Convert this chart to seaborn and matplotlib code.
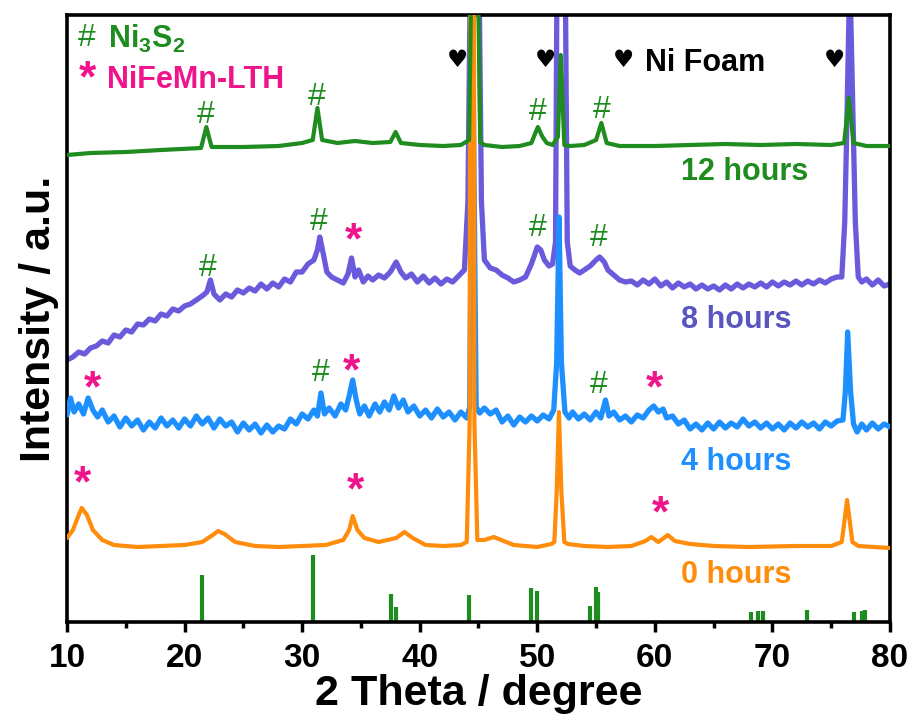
import matplotlib
matplotlib.use("Agg")
import matplotlib.pyplot as plt
import numpy as np
import pandas as pd
import seaborn as sns
from matplotlib.ticker import MultipleLocator

# ---------------- data (intensity values include the vertical offset of each trace) -------------
tt_0h = [10.0, 10.5, 11.0, 11.25, 11.7, 12.2, 13.0, 14.0, 16.0, 18.0, 20.0, 21.5, 22.4, 22.85, 23.4,
         24.3, 26.0, 28.0, 30.0, 32.0, 33.5, 34.0, 34.3, 34.7, 35.3, 36.5, 38.0, 38.7, 39.4, 40.5,
         42.0, 43.5, 44.0, 44.25, 44.3, 44.6, 44.65, 44.9, 45.5, 46.3, 48.0, 50.0, 51.2, 51.45,
         51.65, 51.84, 52.05, 52.3, 52.6, 54.0, 56.0, 58.0, 59.2, 59.7, 60.3, 61.1, 61.7, 63.0,
         65.0, 68.0, 72.0, 75.0, 75.9, 76.35, 76.8, 77.3, 80.0]
int_0h = [84, 92, 107, 114, 107, 92, 82, 77, 75, 76, 77, 80, 87, 91, 88,
          80, 76, 75, 76, 77, 82, 92, 106, 92, 84, 80, 84, 90, 84, 77,
          76, 77, 80, 200, 900, 900, 200, 82, 82, 85, 77, 75, 78, 80,
          130, 210, 130, 80, 78, 76, 75, 76, 81, 85, 80, 87, 81, 78,
          76, 75, 76, 76, 80, 122, 80, 76, 74]

tt_4h = [10.0, 10.3, 10.6, 11.0, 11.4, 11.8, 12.2, 12.6, 13.0, 13.5, 14.0, 14.5, 15.0, 15.5, 16.0,
         16.5, 17.0, 17.5, 18.0, 18.5, 19.0, 19.5, 20.0, 20.5, 21.0, 21.5, 22.0, 22.5, 23.0, 23.5,
         24.0, 24.5, 25.0, 25.5, 26.0, 26.5, 27.0, 27.5, 28.0, 28.5, 29.0, 29.5, 30.0, 30.5, 31.0,
         31.3, 31.6, 31.9, 32.3, 32.8, 33.3, 33.7, 34.0, 34.3, 34.6, 34.9, 35.3, 35.7, 36.2, 36.6,
         37.0, 37.4, 37.8, 38.2, 38.6, 39.0, 39.5, 40.0, 40.5, 41.0, 41.5, 42.0, 42.5, 43.0, 43.5,
         44.0, 44.25, 44.5, 44.8, 45.1, 45.5, 46.0, 46.5, 47.0, 47.5, 48.0, 48.5, 49.0, 49.5, 50.0,
         50.5, 51.0, 51.4, 51.65, 51.85, 52.05, 52.35, 52.7, 53.0, 53.5, 54.0, 54.5, 55.0, 55.4,
         55.8, 56.1, 56.5, 57.0, 57.5, 58.0, 58.5, 59.0, 59.5, 59.9, 60.3, 60.7, 61.0, 61.5, 62.0,
         62.5, 63.0, 63.5, 64.0, 64.5, 65.0, 65.5, 66.0, 66.5, 67.0, 67.5, 68.0, 68.5, 69.0, 69.5,
         70.0, 70.5, 71.0, 71.5, 72.0, 72.5, 73.0, 73.5, 74.0, 74.5, 75.0, 75.5, 76.0, 76.2, 76.4,
         76.65, 76.9, 77.2, 77.6, 78.0, 78.5, 79.0, 79.5, 80.0]
int_4h = [207, 224, 210, 218, 208, 224, 212, 205, 212, 200, 206, 195, 204, 196, 202,
          192, 200, 194, 204, 196, 202, 194, 203, 196, 206, 198, 204, 194, 203, 196,
          200, 190, 199, 192, 198, 189, 197, 190, 196, 193, 203, 198, 208, 203, 212,
          206, 229, 208, 214, 206, 218, 212, 226, 242, 222, 208, 216, 206, 218, 210,
          220, 212, 226, 214, 222, 210, 216, 206, 212, 204, 213, 205, 210, 202, 210,
          204, 215, 600, 215, 209, 214, 208, 212, 200, 206, 197, 205, 200, 206, 201,
          207, 203, 212, 260, 405, 260, 210, 204, 210, 203, 208, 202, 210, 204,
          222, 206, 210, 202, 206, 200, 207, 204, 212, 216, 210, 213, 204, 206, 198,
          202, 193, 198, 192, 199, 193, 200, 194, 199, 195, 203, 196, 200, 194, 199,
          193, 198, 192, 199, 194, 200, 195, 199, 193, 200, 196, 201, 202, 230, 290,
          230, 198, 190, 198, 192, 199, 193, 198, 195]

tt_8h = [10.0, 10.5, 11.0, 11.5, 12.0, 12.5, 13.0, 13.5, 14.0, 14.5, 15.0, 15.5, 16.0, 16.5, 17.0,
         17.5, 18.0, 18.5, 19.0, 19.5, 20.0, 20.5, 21.0, 21.5, 21.9, 22.2, 22.5, 23.0, 23.5, 24.0,
         24.5, 25.0, 25.5, 26.0, 26.5, 27.0, 27.5, 28.0, 28.5, 29.0, 29.5, 30.0, 30.5, 31.0, 31.3,
         31.5, 31.8, 32.1, 32.5, 33.0, 33.5, 33.9, 34.2, 34.5, 34.8, 35.2, 35.6, 36.0, 36.5, 37.0,
         37.5, 38.0, 38.4, 38.8, 39.3, 39.8, 40.3, 40.8, 41.3, 41.8, 42.3, 42.8, 43.3, 43.8, 44.1,
         44.35, 44.65, 45.0, 45.25, 45.5, 46.0, 46.5, 47.0, 47.5, 48.0, 48.5, 49.0, 49.5, 50.0,
         50.3, 50.6, 51.0, 51.3, 51.55, 51.7, 52.0, 52.35, 52.55, 52.8, 53.2, 53.6, 54.0, 54.5,
         55.0, 55.3, 55.7, 56.0, 56.5, 57.0, 57.5, 58.0, 58.5, 59.0, 59.5, 60.0, 60.5, 61.0, 61.5,
         62.0, 62.5, 63.0, 63.5, 64.0, 64.5, 65.0, 65.5, 66.0, 66.5, 67.0, 67.5, 68.0, 68.5, 69.0,
         69.5, 70.0, 70.5, 71.0, 71.5, 72.0, 72.5, 73.0, 73.5, 74.0, 74.5, 75.0, 75.5, 75.9, 76.15,
         76.3, 76.58, 76.9, 77.05, 77.3, 77.6, 78.0, 78.5, 79.0, 79.5, 80.0]
int_8h = [262, 265, 270, 268, 274, 276, 281, 279, 287, 285, 292, 290, 298, 297, 303,
          301, 308, 306, 313, 311, 316, 318, 322, 326, 330, 342, 328, 322, 328, 325,
          332, 329, 334, 331, 338, 333, 339, 335, 343, 340, 350, 350, 358, 362, 372,
          385, 368, 350, 345, 342, 339, 348, 364, 345, 352, 340, 346, 342, 347, 344,
          350, 360, 350, 344, 348, 340, 346, 339, 344, 338, 343, 340, 346, 352, 420,
          700, 760, 700, 420, 362, 354, 352, 347, 344, 340, 342, 345, 358, 375,
          372, 362, 356, 358, 380, 700, 760, 700, 380, 356, 352, 349, 352, 356,
          362, 365, 360, 352, 347, 342, 340, 341, 337, 342, 338, 343, 336, 340, 334,
          339, 335, 338, 333, 337, 333, 336, 332, 337, 333, 338, 334, 338, 335, 339,
          335, 340, 336, 340, 337, 341, 337, 341, 338, 342, 339, 343, 345, 345, 400,
          480, 650, 480, 400, 345, 340, 343, 337, 342, 336, 338]

tt_12h = [10.0, 12.0, 15.0, 18.0, 21.4, 21.85, 22.3, 25.0, 28.0, 30.0, 30.9, 31.3, 31.7, 33.0,
          34.5, 36.0, 37.5, 37.95, 38.4, 40.0, 42.0, 43.5, 44.2, 44.45, 44.9, 45.15, 45.5, 47.0,
          48.5, 49.5, 49.8, 50.05, 50.4, 50.8, 51.3, 51.75, 52.0, 52.3, 52.8, 54.0, 55.0, 55.45,
          55.9, 57.0, 60.0, 63.0, 66.0, 69.0, 72.0, 75.0, 76.1, 76.5, 76.9, 78.0, 80.0]
int_12h = [467, 469, 470, 472, 474, 495, 475, 475, 476, 479, 482, 514, 482, 479,
           481, 479, 480, 490, 479, 477, 476, 477, 482, 700, 700, 480, 477, 475,
           476, 479, 488, 495, 486, 479, 477, 485, 567, 477, 476, 477, 482, 499,
           479, 476, 476, 477, 478, 477, 478, 477, 479, 524, 479, 476, 476]

stick_tt = [21.48, 30.9, 37.55, 38.0, 44.2, 49.5, 50.0, 54.5, 55.0, 55.2, 68.2, 68.8, 69.2,
            72.9, 76.9, 77.6, 77.9]
stick_int = [47, 67, 28, 15, 27, 34, 31, 16, 35, 30, 10, 11, 11, 12, 10, 11, 12]

sample_labels = ["0 hours", "4 hours", "8 hours", "12 hours"]

# annotation marks (2theta, intensity)
ni3s2_marks = [(21.82, 507), (31.26, 525), (50.05, 510), (55.5, 512),
               (21.99, 354), (31.43, 400), (50.05, 394), (55.24, 384),
               (31.6, 249), (55.24, 237)]
lth_marks = [(34.4, 380), (12.2, 232), (34.23, 249), (60.0, 232),
             (11.28, 137), (34.5, 130), (60.5, 107)]
foam_marks = [43.25, 50.7, 57.3, 75.3]

# ---------------- style ----------------
sns.set_style("ticks")
plt.rcParams["font.family"] = ["Liberation Sans", "DejaVu Sans"]
plt.rcParams["font.weight"] = "bold"
plt.rcParams["text.color"] = "black"
plt.rcParams["axes.labelcolor"] = "black"
plt.rcParams["xtick.color"] = "black"
plt.rcParams["mathtext.fontset"] = "custom"
plt.rcParams["mathtext.rm"] = "Liberation Sans:bold"
plt.rcParams["mathtext.bf"] = "Liberation Sans:bold"
plt.rcParams["mathtext.it"] = "Liberation Sans:bold"

C_GREEN = "#1E8C1E"
C_PURPLE = "#6A5ADC"
C_PURPLE_TXT = "#5A55C0"
C_BLUE = "#1E8FFF"
C_ORANGE = "#FF8C0A"
C_PINK = "#F0148C"

fig = plt.figure(figsize=(9.12, 7.2), dpi=100)
ax = fig.add_axes([67 / 912, 98 / 720, 823 / 912, 607 / 720])

traces = [
    (tt_8h, int_8h, C_PURPLE, 3.8, 2),
    (tt_4h, int_4h, C_BLUE, 3.8, 3),
    (tt_0h, int_0h, C_ORANGE, 3.0, 4),
    (tt_12h, int_12h, C_GREEN, 3.0, 5),
]
for tt, iv, col, lw, z in traces:
    df = pd.DataFrame({"two_theta": tt, "intensity": iv})
    sns.lineplot(data=df, x="two_theta", y="intensity", sort=False, estimator=None,
                 color=col, lw=lw, ax=ax, zorder=z)

ax.vlines(stick_tt, 0, stick_int, colors=C_GREEN, lw=3.0, zorder=2)

ax.set_xlim(10, 80)
ax.set_ylim(0, 607)
ax.set_yticks([])
ax.xaxis.set_major_locator(MultipleLocator(10))
ax.xaxis.set_minor_locator(MultipleLocator(5))
ax.tick_params(axis="x", which="major", direction="out", length=7, width=2.5,
               labelsize=24, pad=8, top=False, colors="black")
ax.tick_params(axis="x", which="minor", direction="out", length=4, width=2.5, top=False,
               colors="black")
for lab in ax.get_xticklabels():
    lab.set_fontweight("bold")
for sp in ax.spines.values():
    sp.set_linewidth(2.6)
    sp.set_color("black")
    sp.set_visible(True)

ax.set_xlabel("2 Theta / degree", fontsize=31, fontweight="bold", labelpad=0, color="black")
ax.set_ylabel("Intensity / a.u.", fontsize=31, fontweight="bold", labelpad=6, color="black")

# sample labels
label_cols = [C_ORANGE, C_BLUE, C_PURPLE_TXT, C_GREEN]
label_y = [39, 152, 294, 442]
for txt, col, yv in zip(sample_labels, label_cols, label_y):
    ax.text(62.2, yv, txt, color=col, fontsize=22, fontweight="bold", ha="left", va="baseline")

# marks
for x, y in ni3s2_marks:
    ax.text(x, y, "#", color=C_GREEN, fontsize=23, fontweight="normal", ha="center", va="center")
for x, y in lth_marks:
    ax.text(x, y, "*", color=C_PINK, fontsize=32, fontweight="bold", ha="center", va="center")
for x in foam_marks:
    ax.text(x, 562, "\u2665", color="black", fontsize=17, ha="center", va="center",
            family=["DejaVu Sans"])
ax.text(59.2, 551, "Ni Foam", color="black", fontsize=22, fontweight="bold", ha="left",
        va="baseline")

# legend-like keys
ax.text(11.7, 584, "#", color=C_GREEN, fontsize=23, fontweight="normal", ha="center", va="center")
ax.text(13.5, 574, r"Ni$_{3}$S$_{2}$", color=C_GREEN, fontsize=22, fontweight="bold",
        ha="left", va="baseline")
ax.text(11.7, 542, "*", color=C_PINK, fontsize=32, fontweight="bold", ha="center", va="center")
ax.text(13.4, 534, "NiFeMn-LTH", color=C_PINK, fontsize=22, fontweight="bold",
        ha="left", va="baseline")

fig.savefig("out.png", dpi=100, facecolor="white")
